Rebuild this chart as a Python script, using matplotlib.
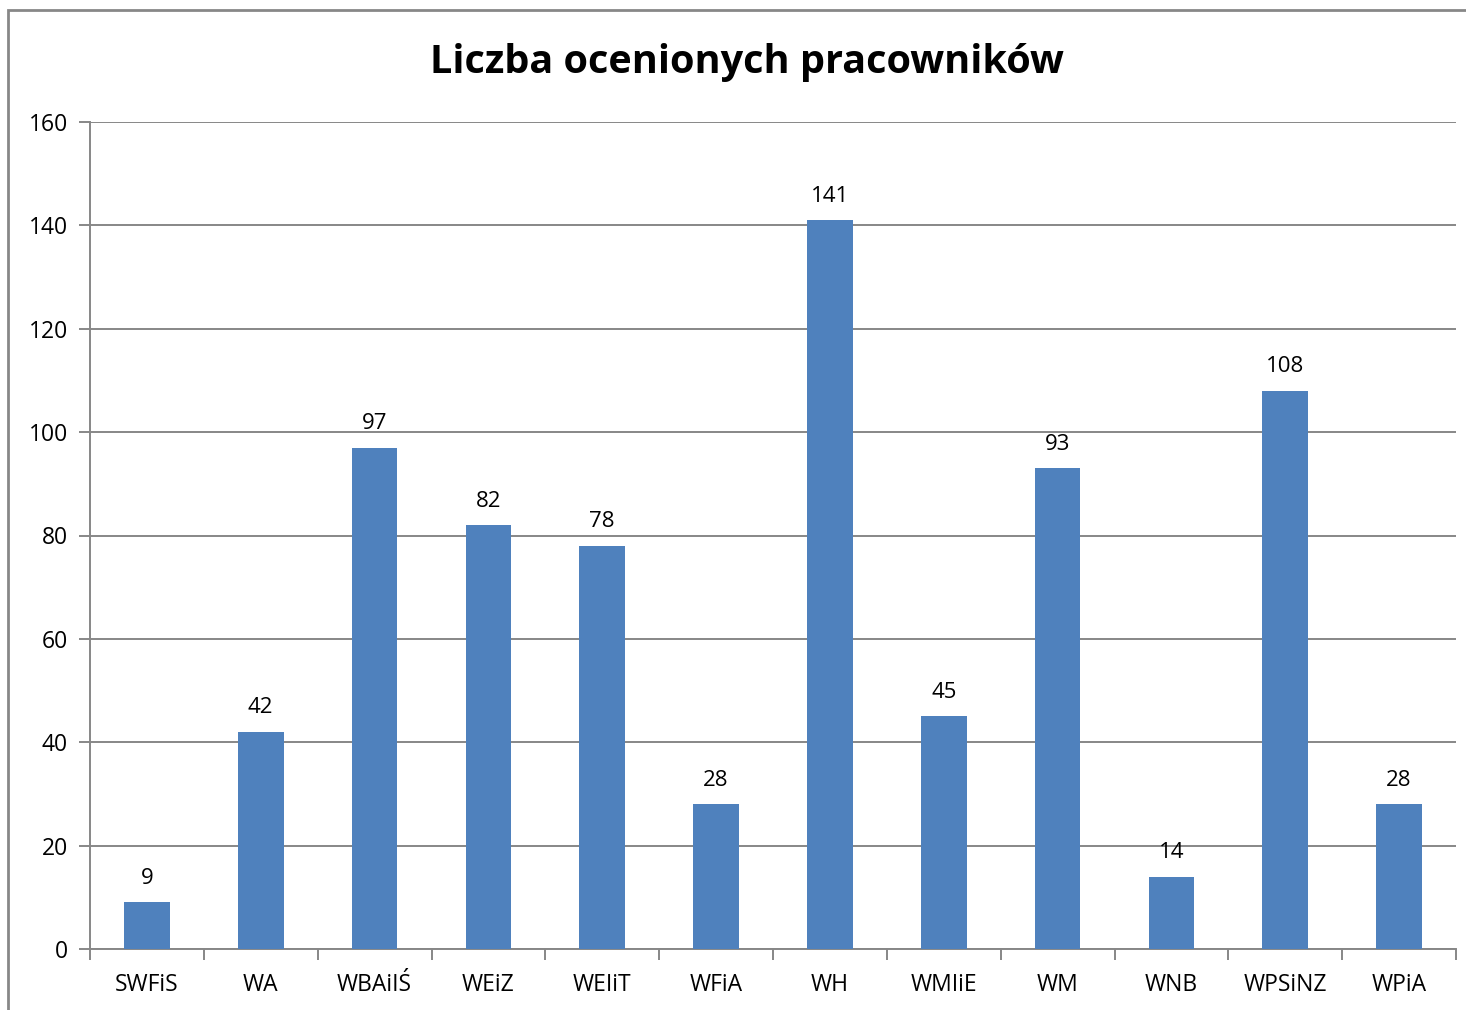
import matplotlib
matplotlib.use('Agg')
import matplotlib.pyplot as plt
from matplotlib.patches import Rectangle

wydzialy = ['SWFiS', 'WA', 'WBAiIŚ', 'WEiZ', 'WEIiT', 'WFiA', 'WH', 'WMIiE', 'WM', 'WNB', 'WPSiNZ', 'WPiA']
liczba = [9, 42, 97, 82, 78, 28, 141, 45, 93, 14, 108, 28]

plt.rcParams['font.family'] = ['Open Sans', 'DejaVu Sans']

W, H = 1466, 1010
fig = plt.figure(figsize=(W / 100, H / 100), dpi=100)
ax = fig.add_axes([90 / W, 1 - 949 / H, (1456 - 90) / W, (949 - 122) / H])

grid_col = '#878787'
x = range(len(wydzialy))
bars = ax.bar(x, liczba, width=0.4, color='#4F81BD', zorder=3)
for xi, v in zip(x, liczba):
    ax.text(xi, v + 2.6, str(v), ha='center', va='bottom', fontsize=16)

ax.set_xlim(-0.5, len(wydzialy) - 0.5)
ax.set_ylim(0, 160)
ax.set_yticks(range(0, 161, 20))
ax.yaxis.grid(True, color=grid_col, linewidth=1.4, zorder=0)
ax.set_xticks(x)
ax.set_xticklabels(wydzialy, fontsize=16.5)
ax.tick_params(axis='x', length=0, pad=17)
ax.tick_params(axis='y', length=8, width=1.4, color=grid_col, labelsize=16.5, pad=8)
# granice kategorii
ax.set_xticks([i - 0.5 for i in range(len(wydzialy) + 1)], minor=True)
ax.tick_params(axis='x', which='minor', length=8, width=1.4, color=grid_col)

for s in ['top', 'right']:
    ax.spines[s].set_visible(False)
for s in ['left', 'bottom']:
    ax.spines[s].set_color(grid_col)
    ax.spines[s].set_linewidth(1.4)

fig.text(747 / W, 1 - 62 / H, 'Liczba ocenionych pracowników', ha='center', va='center',
         fontsize=28.5, fontweight='bold')

fig.patches.append(Rectangle((8 / W, -0.1), 1.2, 1.1 - 10 / H, transform=fig.transFigure,
                             fill=False, edgecolor=grid_col, linewidth=2))

fig.savefig('out.png', dpi=100)
